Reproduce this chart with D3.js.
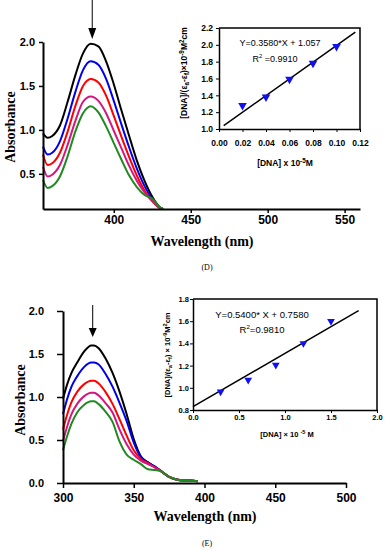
<!DOCTYPE html>
<html>
<head>
<meta charset="utf-8">
<script src="https://cdn.jsdelivr.net/npm/d3@7"></script>
<style>
  body { margin: 0; background: #fff; }
  svg { display: block; }
  .tick text { font-family: "Liberation Sans", Arial, sans-serif; font-weight: bold; fill: #000; }
</style>
</head>
<body>
<div id="chart"></div>
<script>
// ---- panel D : spectra ----
const wlD = [354, 357, 360, 365, 370, 375, 380, 385, 390, 395, 400, 405, 410, 415, 420, 425, 430, 432];
const absD = [
  [0.96, 0.91, 0.93, 1.05, 1.32, 1.62, 1.87, 1.98, 1.95, 1.78, 1.52, 1.22, 0.93, 0.65, 0.42, 0.24, 0.12, 0.10],
  [0.81, 0.72, 0.74, 0.87, 1.13, 1.43, 1.68, 1.78, 1.74, 1.58, 1.33, 1.06, 0.80, 0.56, 0.36, 0.21, 0.11, 0.10],
  [0.72, 0.60, 0.62, 0.74, 0.98, 1.27, 1.50, 1.58, 1.54, 1.39, 1.16, 0.92, 0.69, 0.48, 0.31, 0.19, 0.11, 0.10],
  [0.58, 0.47, 0.49, 0.60, 0.83, 1.10, 1.32, 1.38, 1.33, 1.19, 0.99, 0.79, 0.59, 0.42, 0.29, 0.19, 0.11, 0.10],
  [0.43, 0.34, 0.36, 0.47, 0.70, 0.98, 1.19, 1.27, 1.20, 1.04, 0.85, 0.66, 0.48, 0.35, 0.26, 0.22, 0.12, 0.10]
];
const xTicksD = [400, 450, 500, 550];
const yTicksD = [0.5, 1.0, 1.5, 2.0];
const peakD = 386;

// panel D : inset
const dnaD = [0.02, 0.04, 0.06, 0.08, 0.10];
const ratioD = [1.28, 1.38, 1.59, 1.78, 1.98];
const fitXD = [0.004, 0.116];
const fitYD = [1.04, 2.15];
const insXTicksD = [0, 0.02, 0.04, 0.06, 0.08, 0.10, 0.12];
const insYTicksD = [1.0, 1.2, 1.4, 1.6, 1.8, 2.0, 2.2];

// ---- panel E : spectra ----
const wlE = [300, 303, 306, 310, 315, 320, 322, 325, 330, 335, 340, 345, 350, 355, 360, 365, 370, 375, 380, 385, 390, 395];
const absE = [
  [0.98, 1.15, 1.28, 1.40, 1.53, 1.60, 1.60, 1.57, 1.45, 1.28, 1.06, 0.80, 0.51, 0.31, 0.24, 0.19, 0.13, 0.07, 0.04, 0.03, 0.03, 0.02],
  [0.80, 0.98, 1.12, 1.24, 1.35, 1.40, 1.40, 1.38, 1.27, 1.12, 0.93, 0.72, 0.47, 0.30, 0.24, 0.19, 0.13, 0.07, 0.04, 0.03, 0.03, 0.02],
  [0.62, 0.80, 0.94, 1.06, 1.15, 1.19, 1.19, 1.16, 1.06, 0.92, 0.74, 0.55, 0.38, 0.28, 0.23, 0.18, 0.13, 0.07, 0.04, 0.03, 0.03, 0.02],
  [0.49, 0.66, 0.80, 0.92, 1.01, 1.05, 1.05, 1.02, 0.93, 0.82, 0.62, 0.45, 0.33, 0.26, 0.22, 0.18, 0.13, 0.07, 0.04, 0.03, 0.03, 0.02],
  [0.38, 0.55, 0.69, 0.82, 0.91, 0.95, 0.95, 0.92, 0.83, 0.71, 0.48, 0.33, 0.27, 0.22, 0.16, 0.15, 0.13, 0.07, 0.04, 0.03, 0.03, 0.02]
];
const xTicksE = [300, 350, 400, 450, 500];
const yTicksE = [0.0, 0.5, 1.0, 1.5, 2.0];
const peakE = 321;

// panel E : inset
const dnaE = [0.3, 0.6, 0.9, 1.2, 1.5];
const ratioE = [0.965, 1.07, 1.205, 1.40, 1.60];
const fitXE = [0.0, 1.8];
const fitYE = [0.83, 1.695];
const insXTicksE = [0.0, 0.5, 1.0, 1.5, 2.0];
const insYTicksE = [0.8, 1.0, 1.2, 1.4, 1.6, 1.8];

const colors = ['#000000', '#0000ee', '#ff0000', '#d4167e', '#1f8a1f'];
const serif = '"Liberation Serif", "Times New Roman", serif';
const sans = '"Liberation Sans", Arial, sans-serif';

const svg = d3.select('#chart').append('svg')
  .attr('width', 387)
  .attr('height', 550);

// draws one spectra panel with its axes and arrow
const drawSpectra = (p) => {
  const x = d3.scaleLinear().domain(p.xDomain).range(p.xRange);
  const y = d3.scaleLinear().domain(p.yDomain).range(p.yRange);
  const g = svg.append('g');

  const line = d3.line()
    .x(d => x(d[0]))
    .y(d => y(d[1]))
    .curve(d3.curveMonotoneX);

  p.series.forEach((s, i) => {
    g.append('path')
      .datum(p.wl.map((w, j) => [w, s[j]]))
      .attr('d', line)
      .attr('fill', 'none')
      .attr('stroke', colors[i])
      .attr('stroke-width', 2);
  });

  const xAxis = g.append('g')
    .attr('transform', `translate(0,${p.yRange[0]})`)
    .call(d3.axisBottom(x).tickValues(p.xTicks).tickFormat(d3.format('d'))
      .tickSize(p.xTickSize).tickSizeOuter(0).tickPadding(p.xPad));
  const yAxis = g.append('g')
    .attr('transform', `translate(${p.xRange[0]},0)`)
    .call(d3.axisLeft(y).tickValues(p.yTicks).tickFormat(d3.format('.1f'))
      .tickSize(p.yTickSize).tickSizeOuter(0).tickPadding(p.yPad));
  [xAxis, yAxis].forEach(a => {
    a.select('.domain').attr('stroke-width', 2);
    a.selectAll('.tick line').attr('stroke-width', 1.5);
  });
  xAxis.selectAll('.tick text').style('font-size', '12px');
  yAxis.selectAll('.tick text').style('font-size', '11px');

  // arrow over the peak
  const ax = x(p.peak);
  g.append('line')
    .attr('x1', ax).attr('x2', ax)
    .attr('y1', p.arrow[0]).attr('y2', p.arrow[1])
    .attr('stroke', '#000').attr('stroke-width', 1);
  g.append('path')
    .attr('d', `M${ax - 4},${p.arrow[1]} L${ax + 4},${p.arrow[1]} L${ax},${p.arrow[2]} Z`)
    .attr('fill', '#000');

  g.append('text')
    .attr('transform', `translate(${p.yLabel[0]},${p.yLabel[1]}) rotate(-90)`)
    .attr('text-anchor', 'middle')
    .style('font-family', serif).style('font-weight', 'bold').style('font-size', '14px')
    .text('Absorbance');
  g.append('text')
    .attr('x', p.xLabel[0]).attr('y', p.xLabel[1])
    .attr('text-anchor', 'middle')
    .style('font-family', serif).style('font-weight', 'bold').style('font-size', '14px')
    .text('Wavelength (nm)');
  g.append('text')
    .attr('x', p.caption[0]).attr('y', p.caption[1])
    .attr('text-anchor', 'middle')
    .style('font-family', serif).style('font-size', '8px')
    .text(p.captionText);
};

// draws one inset (binding plot)
const drawInset = (p) => {
  const x = d3.scaleLinear().domain(p.xDomain).range(p.xRange);
  const y = d3.scaleLinear().domain(p.yDomain).range(p.yRange);
  const g = svg.append('g');

  // frame
  g.append('path')
    .attr('d', `M${p.xRange[0]},${p.yRange[1]} H${p.xRange[1]} V${p.yRange[0]}`)
    .attr('fill', 'none').attr('stroke', '#000').attr('stroke-width', 1.5);

  const xAxis = g.append('g')
    .attr('transform', `translate(0,${p.yRange[0]})`)
    .call(d3.axisBottom(x).tickValues(p.xTicks).tickFormat(d3.format(p.xFmt))
      .tickSize(3).tickSizeOuter(0).tickPadding(p.xPad));
  const yAxis = g.append('g')
    .attr('transform', `translate(${p.xRange[0]},0)`)
    .call(d3.axisLeft(y).tickValues(p.yTicks).tickFormat(d3.format('.1f'))
      .tickSize(3).tickSizeOuter(0).tickPadding(p.yPad));
  [xAxis, yAxis].forEach(a => {
    a.select('.domain').attr('stroke-width', 1.5);
    a.selectAll('.tick text').style('font-size', p.font + 'px');
  });

  g.append('line')
    .attr('x1', x(p.fitX[0])).attr('y1', y(p.fitY[0]))
    .attr('x2', x(p.fitX[1])).attr('y2', y(p.fitY[1]))
    .attr('stroke', '#000').attr('stroke-width', 1.5);

  g.selectAll('.pt')
    .data(p.xs.map((d, i) => [d, p.ys[i]]))
    .join('path')
      .attr('class', 'pt')
      .attr('d', d3.symbol(d3.symbolTriangle, p.markSize))
      .attr('transform', d => `translate(${x(d[0])},${y(d[1])}) rotate(180)`)
      .attr('fill', '#1010f0');

  g.append('text')
    .attr('x', p.eqPos[0]).attr('y', p.eqPos[1])
    .attr('text-anchor', 'middle')
    .style('font-family', sans).style('font-size', p.eqFont + 'px')
    .text(p.eqText);
  const r2 = g.append('text')
    .attr('x', p.r2Pos[0]).attr('y', p.r2Pos[1])
    .attr('text-anchor', 'middle')
    .style('font-family', sans).style('font-size', p.eqFont + 'px');
  r2.append('tspan').text('R');
  r2.append('tspan').attr('dy', -4).style('font-size', (p.eqFont * 0.65) + 'px').text('2');
  r2.append('tspan').attr('dy', 4).text(p.r2Text);

  // rotated y label
  const yl = g.append('text')
    .attr('transform', `translate(${p.yLabel[0]},${p.yLabel[1]}) rotate(-90)`)
    .attr('text-anchor', 'middle')
    .style('font-family', sans).style('font-weight', 'bold').style('font-size', p.labFont + 'px');
  const small = (p.labFont * 0.75) + 'px';
  yl.append('tspan').text('[DNA]/(ε');
  yl.append('tspan').attr('dy', 2).style('font-size', small).text('a');
  yl.append('tspan').attr('dy', -2).text('-ε');
  yl.append('tspan').attr('dy', 2).style('font-size', small).text('f');
  yl.append('tspan').attr('dy', -2).text(p.yMid);
  yl.append('tspan').attr('dy', -3).style('font-size', small).text('-9');
  yl.append('tspan').attr('dy', 3).text('M');
  yl.append('tspan').attr('dy', -3).style('font-size', small).text('2');
  yl.append('tspan').attr('dy', 3).text('cm');

  const xl = g.append('text')
    .attr('x', p.xLabel[0]).attr('y', p.xLabel[1])
    .attr('text-anchor', 'middle')
    .style('font-family', sans).style('font-weight', 'bold').style('font-size', p.labFont + 'px');
  xl.append('tspan').text(p.xPre);
  xl.append('tspan').attr('dy', -3).style('font-size', small).text(p.xExp);
  xl.append('tspan').attr('dy', 3).text(p.xPost);
};

drawSpectra({
  wl: wlD, series: absD, xDomain: [354, 560], xRange: [43, 360], yDomain: [0.1, 2.0], yRange: [209, 42],
  xTicks: xTicksD, yTicks: yTicksD, xTickSize: 4, xPad: 2, yTickSize: 4, yPad: 4,
  peak: peakD, arrow: [0, 28, 39],
  yLabel: [15, 127], xLabel: [202, 246], caption: [207, 270], captionText: '(D)'
});

drawInset({
  xDomain: [0, 0.12], xRange: [219, 360], yDomain: [1.0, 2.2], yRange: [129, 28],
  xTicks: insXTicksD, yTicks: insYTicksD, xFmt: '.2f', xPad: 8, yPad: 3, font: 8.5,
  fitX: fitXD, fitY: fitYD, xs: dnaD, ys: ratioD, markSize: 32,
  eqPos: [280, 46], eqText: 'Y=0.3580*X + 1.057', r2Pos: [275, 62], r2Text: ' =0.9910', eqFont: 9,
  yLabel: [187, 73], yMid: ')×10', labFont: 8.5,
  xLabel: [285, 166], xPre: '[DNA] x 10', xExp: '-5', xPost: 'M'
});

drawSpectra({
  wl: wlE, series: absE, xDomain: [300, 500], xRange: [63, 346], yDomain: [0, 2], yRange: [483, 311],
  xTicks: xTicksE, yTicks: yTicksE, xTickSize: 5, xPad: 5, yTickSize: 6, yPad: 13,
  peak: peakE, arrow: [305, 328, 337],
  yLabel: [25, 400], xLabel: [205, 521], caption: [207, 546], captionText: '(E)'
});

drawInset({
  xDomain: [0, 2], xRange: [193, 377], yDomain: [0.8, 1.8], yRange: [410, 299],
  xTicks: insXTicksE, yTicks: insYTicksE, xFmt: '.1f', xPad: 2, yPad: 1, font: 7.5,
  fitX: fitXE, fitY: fitYE, xs: dnaE, ys: ratioE, markSize: 26,
  eqPos: [262, 318], eqText: 'Y=0.5400* X + 0.7580', r2Pos: [262, 333], r2Text: '=0.9810', eqFont: 9.5,
  yLabel: [170, 355], yMid: ') × 10', labFont: 7.5,
  xLabel: [287, 437], xPre: '[DNA] × 10 ', xExp: '-5', xPost: ' M'
});
</script>
</body>
</html>
